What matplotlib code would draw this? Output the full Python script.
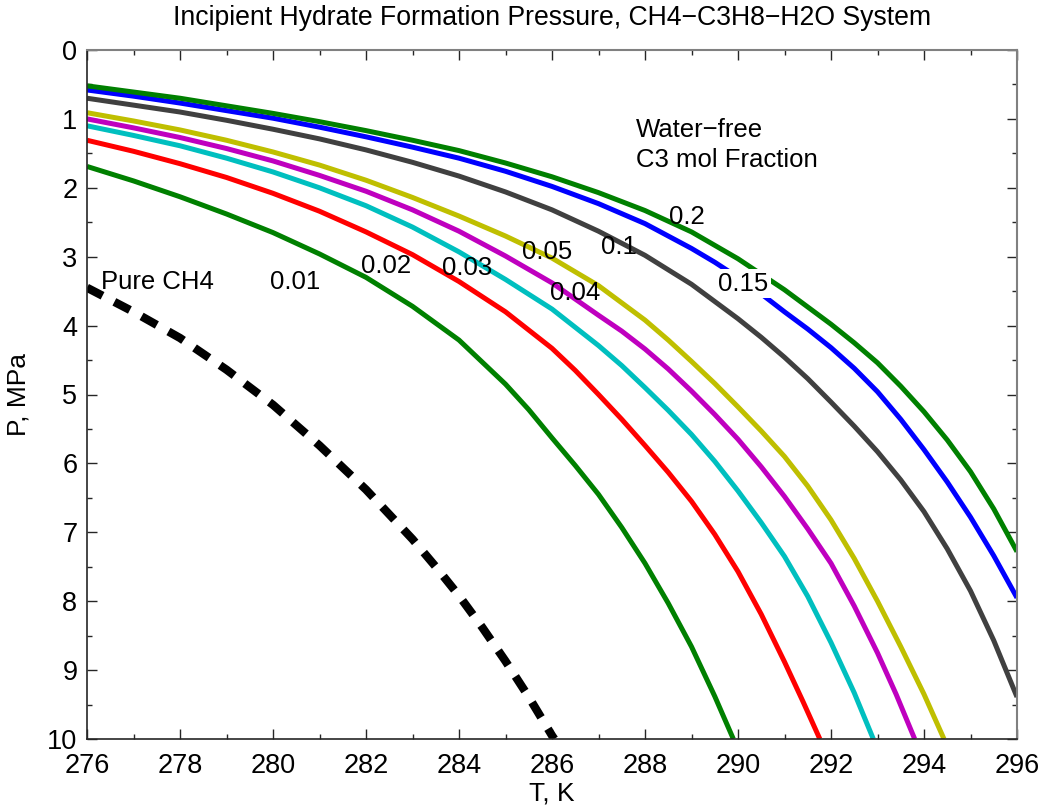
import matplotlib
matplotlib.use("Agg")
import matplotlib.pyplot as plt
from matplotlib.ticker import MultipleLocator

plt.rcParams['font.family'] = ['Liberation Sans', 'DejaVu Sans']

# ---- data (T in K, P in MPa) ----
T_001 = [276, 277, 278, 279, 280, 281, 282, 283, 284, 285, 285.5, 286, 286.5,
         287, 287.5, 288, 288.5, 289, 289.5, 289.9]
P_001 = [1.69, 1.90, 2.13, 2.38, 2.65, 2.96, 3.30, 3.72, 4.21, 4.85, 5.22, 5.63, 6.03,
         6.45, 6.93, 7.45, 8.03, 8.66, 9.38, 10.0]

T_002 = [276, 277, 278, 279, 280, 281, 282, 283, 284, 285, 286, 286.5, 287, 287.5,
         288, 288.5, 289, 289.5, 290, 290.5, 291, 291.4, 291.76]
P_002 = [1.31, 1.47, 1.65, 1.85, 2.08, 2.34, 2.64, 2.97, 3.36, 3.80, 4.33, 4.65, 5.00, 5.36,
         5.74, 6.13, 6.55, 7.03, 7.57, 8.19, 8.88, 9.46, 10.0]

T_003 = [276, 277, 278, 279, 280, 281, 282, 283, 284, 285, 286, 287, 287.5, 288, 288.5,
         289, 289.5, 290, 290.5, 291, 291.5, 292, 292.5, 292.91]
P_003 = [1.10, 1.24, 1.39, 1.57, 1.77, 2.00, 2.26, 2.57, 2.93, 3.33, 3.76, 4.29, 4.58, 4.90, 5.23,
         5.58, 5.97, 6.40, 6.86, 7.35, 7.93, 8.60, 9.33, 10.0]

T_004 = [276, 277, 278, 279, 280, 281, 282, 283, 284, 285, 286, 287, 287.5, 288, 288.5,
         289, 289.5, 290, 290.5, 291, 291.5, 292, 292.5, 293, 293.4, 293.8]
P_004 = [1.00, 1.13, 1.27, 1.43, 1.61, 1.82, 2.05, 2.32, 2.63, 2.99, 3.38, 3.85, 4.08, 4.34, 4.63,
         4.95, 5.29, 5.65, 6.05, 6.48, 6.95, 7.45, 8.07, 8.75, 9.35, 10.0]

T_005 = [276, 277, 278, 279, 280, 281, 282, 283, 284, 285, 286, 287, 288, 288.5, 289, 289.5,
         290, 290.5, 291, 291.5, 292, 292.5, 293, 293.5, 294, 294.43]
P_005 = [0.91, 1.03, 1.16, 1.31, 1.48, 1.67, 1.89, 2.14, 2.41, 2.70, 3.02, 3.42, 3.92, 4.21, 4.52, 4.84,
         5.18, 5.53, 5.90, 6.33, 6.82, 7.38, 8.00, 8.66, 9.35, 10.0]

T_010 = [276, 277, 278, 279, 280, 281, 282, 283, 284, 285, 286, 287, 288, 289, 290, 290.5,
         291, 291.5, 292, 292.5, 293, 293.5, 294, 294.5, 295, 295.5, 296]
P_010 = [0.70, 0.80, 0.90, 1.02, 1.15, 1.29, 1.45, 1.63, 1.83, 2.06, 2.32, 2.63, 2.98, 3.40, 3.90, 4.17,
         4.46, 4.77, 5.11, 5.46, 5.83, 6.24, 6.70, 7.24, 7.85, 8.57, 9.39]

T_015 = [276, 277, 278, 279, 280, 281, 282, 283, 284, 285, 286, 287, 288, 289, 289.5, 290, 290.5,
         291, 291.5, 292, 292.5, 293, 293.5, 294, 294.5, 295, 295.5, 296]
P_015 = [0.58, 0.67, 0.77, 0.88, 0.99, 1.12, 1.26, 1.41, 1.57, 1.76, 1.98, 2.23, 2.52, 2.88, 3.08, 3.30, 3.54,
         3.80, 4.05, 4.32, 4.62, 4.96, 5.36, 5.80, 6.27, 6.78, 7.34, 7.95]

T_020 = [276, 277, 278, 279, 280, 281, 282, 283, 284, 285, 286, 287, 288, 289, 290, 291, 292,
         292.5, 293, 293.5, 294, 294.5, 295, 295.5, 296]
P_020 = [0.52, 0.61, 0.70, 0.81, 0.92, 1.04, 1.17, 1.31, 1.46, 1.64, 1.84, 2.07, 2.33, 2.64, 3.03, 3.48, 3.98,
         4.25, 4.54, 4.88, 5.25, 5.66, 6.12, 6.66, 7.28]

T_CH4 = [276, 277, 278, 279, 280, 281, 282, 283, 283.5, 284, 284.5, 285, 285.5, 286, 286.05]
P_CH4 = [3.45, 3.80, 4.18, 4.64, 5.15, 5.74, 6.38, 7.10, 7.50, 7.92, 8.38, 8.87, 9.39, 9.95, 10.0]

curve_labels = ["0.01", "0.02", "0.03", "0.04", "0.05", "0.1", "0.15", "0.2"]
label_T = [280.47, 282.44, 284.17, 286.49, 285.89, 287.43, 290.1, 288.89]
label_P = [3.36, 3.14, 3.17, 3.53, 2.93, 2.86, 3.39, 2.42]

series = [(T_001, P_001), (T_002, P_002), (T_003, P_003), (T_004, P_004),
          (T_005, P_005), (T_010, P_010), (T_015, P_015), (T_020, P_020)]
colors = ['#008000', '#ff0000', '#00bfbf', '#bf00bf', '#bfbf00',
          '#404040', '#0000ff', '#008000']

fig = plt.figure(figsize=(10.45, 8.09), dpi=100)
ax = fig.add_axes([87/1045, 70/809, 930/1045, 689/809])

for (T, P), c in zip(series, colors):
    ax.plot(T, P, color=c, lw=3.6, solid_capstyle='butt',
            solid_joinstyle='round', zorder=2)

ax.plot(T_CH4, P_CH4, color='black', lw=6, linestyle=(0, (2.1, 1.6)),
        dash_capstyle='butt', zorder=2)

fs = 18.5
for txt, tx, py in zip(curve_labels, label_T, label_P):
    kw = {}
    if txt == "0.15":
        kw['bbox'] = dict(facecolor='white', edgecolor='none', pad=2)
    ax.text(tx, py, txt, fontsize=fs, ha='center', va='center', zorder=5, **kw)

ax.text(276.3, 3.37, "Pure CH4", fontsize=fs, ha='left', va='center')
ax.text(287.8, 1.38, "Water\u2212free\nC3 mol Fraction", fontsize=fs,
        ha='left', va='center', linespacing=1.3)

ax.set_xlim(276, 296)
ax.set_ylim(10, 0)
ax.xaxis.set_major_locator(MultipleLocator(2))
ax.xaxis.set_minor_locator(MultipleLocator(1))
ax.yaxis.set_major_locator(MultipleLocator(1))
ax.yaxis.set_minor_locator(MultipleLocator(0.5))
ax.tick_params(which='both', direction='in', top=True, right=True,
               labelsize=19.5, width=1.0, color='#262626')
ax.tick_params(which='major', length=7)
ax.tick_params(axis='x', which='major', pad=10)
ax.tick_params(axis='y', which='major', pad=7)
ax.tick_params(which='minor', length=3.6)
for s in ['left', 'bottom']:
    ax.spines[s].set_color('#262626')
    ax.spines[s].set_linewidth(1.2)
for s in ['top', 'right']:
    ax.spines[s].set_color('#808080')
    ax.spines[s].set_linewidth(1.5)

ax.set_xlabel("T, K", fontsize=19, labelpad=2)
ax.set_ylabel("P, MPa", fontsize=19, labelpad=12)
ax.set_title("Incipient Hydrate Formation Pressure, CH4\u2212C3H8\u2212H2O System",
             fontsize=19.2, pad=18)

fig.savefig("out.png", dpi=100)
